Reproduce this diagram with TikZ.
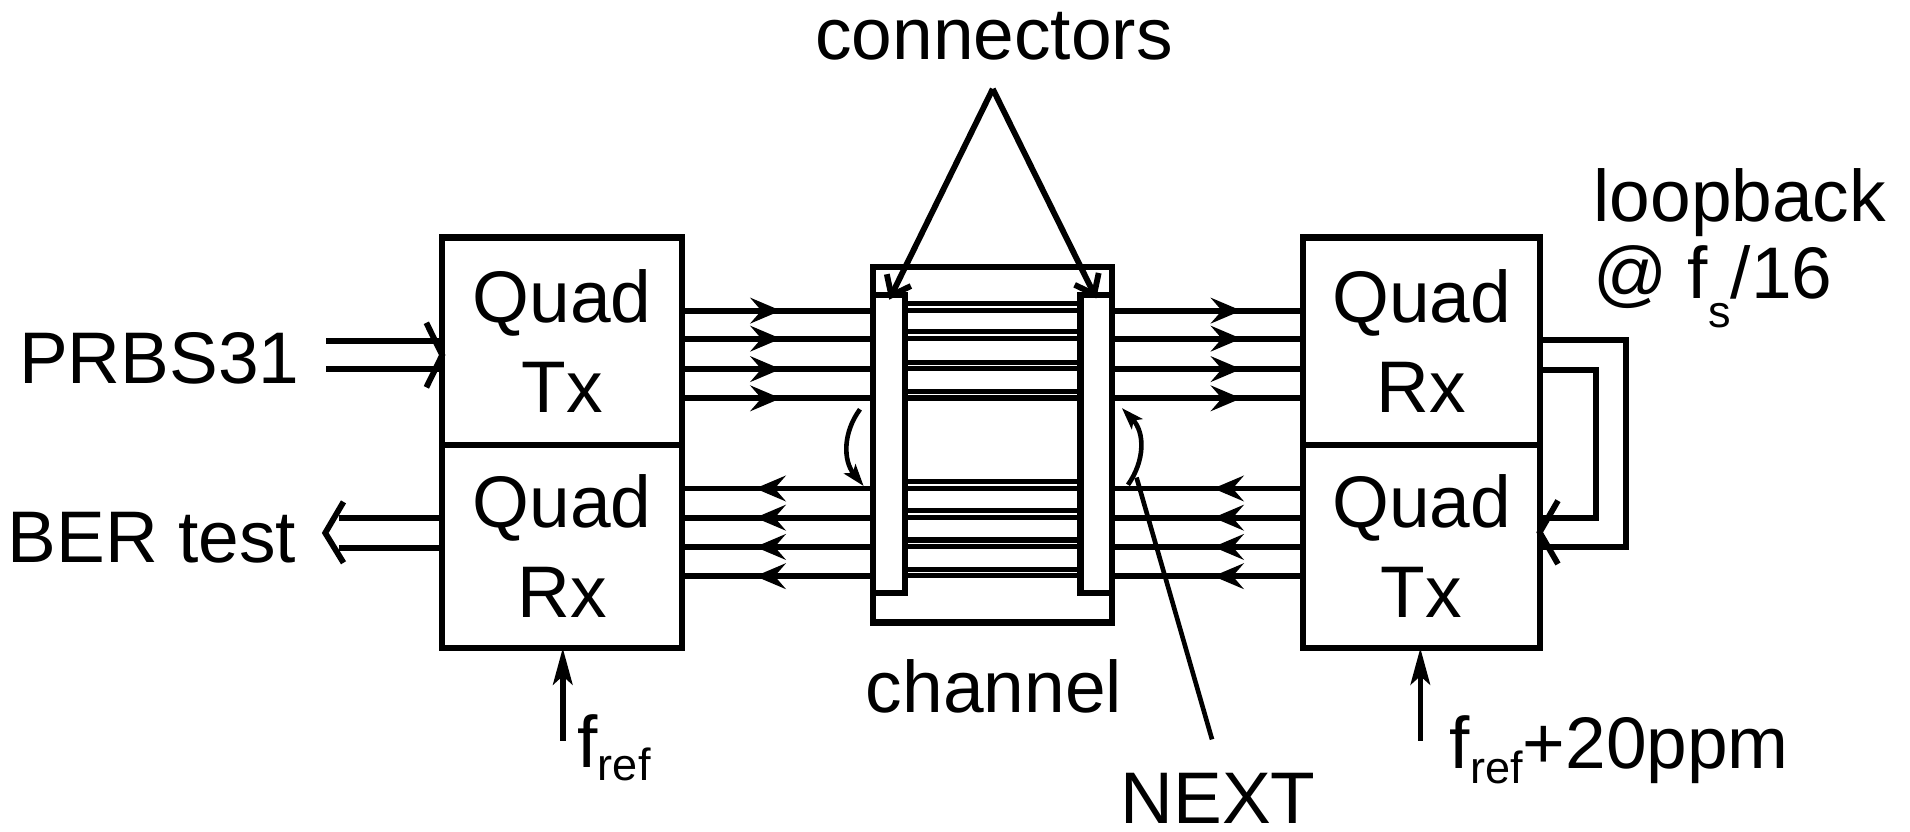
\documentclass[tikz,border=0pt]{standalone}
\usepackage{fontspec}
\setmainfont{Liberation Sans}
\usetikzlibrary{arrows.meta,decorations.markings}
\newcommand{\mysub}[2]{\raisebox{-#1pt}{\fontsize{37}{40}\selectfont #2}}
\begin{document}
\begin{tikzpicture}[x=1pt,y=-1pt,
  big/.style={font=\fontsize{60}{74}\selectfont, inner sep=0pt},
  blk/.style={draw, line width=5pt, inner sep=0pt, outer sep=0pt, align=center, font=\fontsize{60}{74}\selectfont},
  lead/.style={line width=4.8pt},
  trace/.style={double, double distance=1.2pt, line width=4.2pt},
  bar/.style={draw, fill=white, line width=5pt, inner sep=0pt, outer sep=0pt, minimum width=26pt, minimum height=245pt},
  tipat/.style={postaction={decorate}, decoration={markings, mark=at position #1 with {\arrow{Stealth[length=25pt,width=21pt,inset=9pt]}}}},
  chev/.style={line width=4.8pt, line join=miter},
  cline/.style={line width=4.8pt, -{Straight Barb[length=14pt,width=22pt]}},
  xtalk/.style={line width=3.8pt, -{Stealth[length=18pt,width=12pt,inset=4pt]}},
  fref/.style={line width=4.5pt, -{Stealth[length=30pt,width=16pt,inset=7pt]}}
]
\useasboundingbox (0,0) rectangle (1568,683);

% blocks
\node[blk, minimum width=197pt, minimum height=170pt] (ltx) at (461.5,280) {Quad\\Tx};
\node[blk, minimum width=197pt, minimum height=167pt] (lrx) at (461.5,448.5) {Quad\\Rx};
\node[blk, minimum width=194pt, minimum height=170pt] (rrx) at (1167,280) {Quad\\Rx};
\node[blk, minimum width=194pt, minimum height=167pt] (rtx) at (1167,448.5) {Quad\\Tx};

% channel
\node[draw, line width=5pt, inner sep=0pt, outer sep=0pt, minimum width=196pt, minimum height=292pt] (chan) at (815,365) {};
\foreach \y in {255,278,303,327,401,425,449,473}{
  \draw[trace] (743,\y-3) -- (887,\y-3);
}
\node[bar] (cl) at (730,364.5) {};
\node[bar] (cr) at (900,364.5) {};

% leads
\foreach \y in {255,278,303,327}{
  \draw[lead, tipat=81pt] (ltx.east |- 0,\y) -- (chan.west |- 0,\y);
  \draw[lead, tipat=106pt] (chan.east |- 0,\y) -- (rrx.west |- 0,\y);
}
\foreach \y in {401,425,449,473}{
  \draw[lead, tipat=97pt] (chan.west |- 0,\y) -- (lrx.east |- 0,\y);
  \draw[lead, tipat=74pt] (rtx.west |- 0,\y) -- (chan.east |- 0,\y);
}

% PRBS31 input
\node[big, anchor=base east] (prbs) at (246,315) {PRBS31};
\coordinate (pa) at (268,280);
\coordinate (pb) at (268,303);
\draw[lead] (pa) -- (ltx.west |- pa);
\draw[lead] (pb) -- (ltx.west |- pb);
\draw[chev] (350,265) -- (ltx.west |- 0,291.5) -- (350,318);

% BER test output
\node[big, anchor=base west] (ber) at (6,462) {BER test};
\coordinate (ba) at (278,425);
\coordinate (bb) at (278,450);
\draw[lead] (lrx.west |- ba) -- (ba);
\draw[lead] (lrx.west |- bb) -- (bb);
\draw[chev] (282,412) -- (267,437.5) -- (282,462);

% loopback
\coordinate (lo) at (1335,449);
\coordinate (li) at (1310,425);
\draw[lead] (rrx.east |- 0,279) -| (lo) -- (rtx.east |- lo);
\draw[lead] (rrx.east |- 0,304) -| (li) -- (rtx.east |- li);
\draw[chev] (1279,411) -- (rtx.east |- 0,437) -- (1279,463);
\node[big, anchor=base west] (lb1) at (1308,182) {loopback};
\node[big, anchor=base west] (lb2) at (1308,245) {@ f\mysub{24}{s}/16};

% connectors
\node[big, anchor=base] (conn) at (816,49) {connectors};
\coordinate (apex) at (815,73);
\draw[cline] (apex) -- ([yshift=-4pt]cl.north);
\draw[cline] (apex) -- ([yshift=-3pt]cr.north);

% NEXT
\draw[xtalk] (706,336) .. controls (692,355) and (692,378) .. (709,399);
\draw[xtalk] (926,398) .. controls (940,378) and (940,355) .. (921,335);
\node[big, anchor=base] (next) at (1000,676) {NEXT};
\coordinate (nx) at (933,392);
\coordinate (ny) at (995,607);
\draw[line width=3.8pt] (ny) -- (nx);

% channel label
\node[big, anchor=base] (chl) at (816,585) {channel};

% reference clocks
\coordinate (fa) at (462,608);
\coordinate (fb) at (1166,608);
\draw[fref] (fa) -- (fa |- lrx.south);
\draw[fref] (fb) -- (fb |- rtx.south);
\node[big, anchor=base west] (f1) at (474,630) {f\mysub{11}{ref}};
\node[big, anchor=base west] (f2) at (1190,631) {f\mysub{12}{ref}+20ppm};
\end{tikzpicture}
\end{document}
